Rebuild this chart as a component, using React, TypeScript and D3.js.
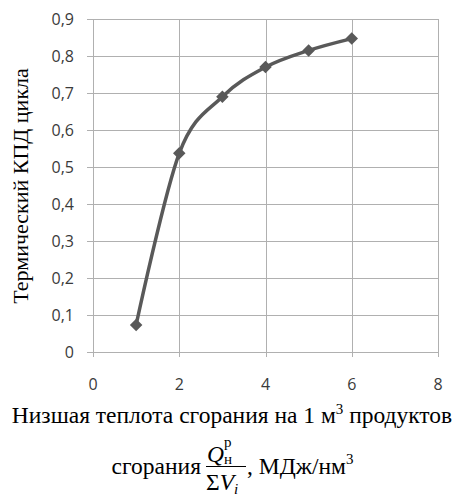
import { useMemo } from "react";
import * as d3 from "d3";

const W = 463;
const H = 504;

// heat value, MJ/nm3
const heat = [1, 2, 3, 4, 5, 6];
// thermal efficiency
const efficiency = [0.073, 0.537, 0.69, 0.77, 0.815, 0.847];

const xTicks = [0, 2, 4, 6, 8];
const yTicks = [0, 0.1, 0.2, 0.3, 0.4, 0.5, 0.6, 0.7, 0.8, 0.9];

const M = { left: 93, right: 438, top: 19, bottom: 352 };
const GRID = "#b0b0b0";
const LINE = "#595959";
const SERIF = "'Liberation Serif', 'Times New Roman', serif";
const SANS = "'Open Sans', 'Noto Sans', sans-serif";
const B = 423; // baseline of the first line of the x title
const L2 = B + 51; // baseline of the second line
const BAR = L2 - 8; // fraction bar

export default function App() {
  const x = useMemo(() => d3.scaleLinear().domain([0, 8]).range([M.left, M.right]), []);
  const y = useMemo(() => d3.scaleLinear().domain([0, 0.9]).range([M.bottom, M.top]), []);

  const path = useMemo(() => {
    const line = d3
      .line<number>()
      .x((d, i) => x(heat[i]))
      .y((d) => y(d))
      .curve(d3.curveCardinal.tension(0));
    return line(efficiency);
  }, [x, y]);

  const diamond = d3.symbol(d3.symbolDiamond2, 100)();
  const fmt = (v: number) => (v === 0 ? "0" : v.toFixed(1).replace(".", ","));

  return (
    <svg width={W} height={H} style={{ position: "absolute", left: 0, top: 0 }}>
      <rect width={W} height={H} fill="#fff" />
      {/* grid */}
      {yTicks.map((t) => (
        <line key={"y" + t} x1={M.left - 6} x2={M.right} y1={Math.round(y(t)) + 0.5} y2={Math.round(y(t)) + 0.5} stroke={GRID} />
      ))}
      {xTicks.map((t) => (
        <line key={"x" + t} x1={Math.round(x(t)) + 0.5} x2={Math.round(x(t)) + 0.5} y1={M.top} y2={M.bottom + 5} stroke={GRID} />
      ))}
      {/* tick labels */}
      {yTicks.map((t) => (
        <text key={"yl" + t} x={74} y={y(t)} dy="0.36em" textAnchor="end" fontFamily={SANS} fontSize={16} fill="#3a3a3a">
          {fmt(t)}
        </text>
      ))}
      {xTicks.map((t) => (
        <text key={"xl" + t} x={x(t)} y={390} textAnchor="middle" fontFamily={SANS} fontSize={16} fill="#3a3a3a">
          {t}
        </text>
      ))}
      {/* series */}
      <path d={path ?? ""} fill="none" stroke={LINE} strokeWidth={3.5} />
      {efficiency.map((v, i) => (
        <path key={i} d={diamond ?? ""} transform={`translate(${x(heat[i])},${y(v)})`} fill={LINE} />
      ))}
      {/* y title */}
      <text transform="translate(28,186) rotate(-90)" textAnchor="middle" fontFamily={SERIF} fontSize={22} fill="#000">
        Термический КПД цикла
      </text>
      {/* x title */}
      <text x={232} y={B} textAnchor="middle" fontFamily={SERIF} fontSize={23.5} fill="#000">
        Низшая теплота сгорания на 1 м
        <tspan dy={-9} fontSize={15}>3</tspan>
        <tspan dy={9}> продуктов</tspan>
      </text>
      <text x={201} y={L2} textAnchor="end" fontFamily={SERIF} fontSize={23.5} fill="#000">
        сгорания
      </text>
      <text x={207} y={BAR - 4} fontFamily={SERIF} fontSize={23.5} fontStyle="italic" fill="#000">
        Q
      </text>
      <text x={224} y={BAR - 2} fontFamily={SERIF} fontSize={15} fill="#000">
        н
      </text>
      <text x={224} y={BAR - 19} fontFamily={SERIF} fontSize={15} fill="#000">
        р
      </text>
      <line x1={206} x2={246} y1={BAR + 0.5} y2={BAR + 0.5} stroke="#000" strokeWidth={1} />
      <text x={206} y={BAR + 24} fontFamily={SERIF} fontSize={23.5} fill="#000">
        Σ<tspan fontStyle="italic">V</tspan>
        <tspan fontSize={15} fontStyle="italic" dy={4}>i</tspan>
      </text>
      <text x={247} y={L2} fontFamily={SERIF} fontSize={23.5} fill="#000">
        ,  МДж/нм
        <tspan dy={-10} fontSize={15}>3</tspan>
      </text>
    </svg>
  );
}
